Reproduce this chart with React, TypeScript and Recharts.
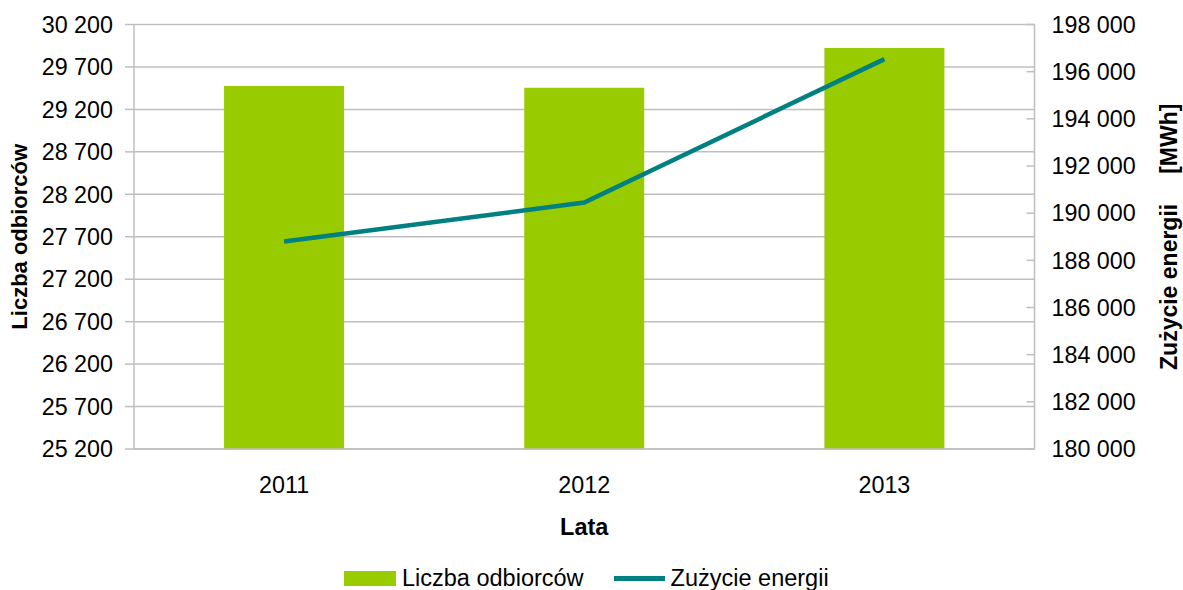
import React from 'react';
import {
  ComposedChart,
  Bar,
  Line,
  XAxis,
  YAxis,
  CartesianGrid,
  Legend,
} from 'recharts';

const years = ['2011', '2012', '2013'];
const customers = [29477, 29454, 29922];
const energy = [188795, 190450, 196533];

const leftTicks = [25200, 25700, 26200, 26700, 27200, 27700, 28200, 28700, 29200, 29700, 30200];
const rightTicks = [180000, 182000, 184000, 186000, 188000, 190000, 192000, 194000, 196000, 198000];

const seriesNames = { bars: 'Liczba odbiorców', line: 'Zużycie energii' };
const axisTitles = { x: 'Lata', left: 'Liczba odbiorców', right: 'Zużycie energii', rightUnit: '[MWh]' };

const data = years.map((y, i) => ({ year: y, customers: customers[i], energy: energy[i] }));

const BAR_COLOR = '#99CC00';
const LINE_COLOR = '#008080';
const GRID = '#BFBFBF';
const FONT = '"Liberation Sans", Arial, sans-serif';
const FS = 23.3;

const fmt = (v: number) => String(v).replace(/\B(?=(\d{3})+(?!\d))/g, ' ');

const RightTick = (props: any) => {
  const { x, y, payload } = props;
  return (
    <g>
      <line x1={x - 25} x2={x - 17} y1={y} y2={y} stroke={GRID} strokeWidth={1.5} />
      <text x={x} y={y} dy="0.355em" textAnchor="start" fontSize={FS} fill="#000">
        {fmt(payload.value)}
      </text>
    </g>
  );
};

const LegendContent = () => (
  <div
    style={{
      display: 'flex',
      alignItems: 'center',
      height: 24,
      paddingLeft: 344,
      fontSize: 23.5,
      color: '#000',
      fontFamily: FONT,
      whiteSpace: 'nowrap',
    }}
  >
    <span style={{ display: 'inline-block', width: 52, height: 15, background: BAR_COLOR }} />
    <span style={{ marginLeft: 6 }}>{seriesNames.bars}</span>
    <span style={{ display: 'inline-block', width: 51, height: 5, background: LINE_COLOR, marginLeft: 30 }} />
    <span style={{ marginLeft: 6 }}>{seriesNames.line}</span>
  </div>
);

export default function App() {
  return (
    <div style={{ position: 'absolute', left: 0, top: 0, fontFamily: FONT, background: '#fff' }}>
      <ComposedChart
        width={1183}
        height={590}
        data={data}
        margin={{ top: 24.5, right: 0, left: 0, bottom: 0 }}
        barCategoryGap="30%"
      >
        <CartesianGrid yAxisId="left" vertical={false} stroke={GRID} strokeWidth={1.5} />
        <XAxis
          dataKey="year"
          height={117}
          tickLine={false}
          tickSize={0}
          tickMargin={27.5}
          axisLine={{ stroke: GRID, strokeWidth: 1.5 }}
          tick={{ fill: '#000', fontSize: FS }}
          label={(p: any) => {
            const vb = p.viewBox;
            return (
              <text
                x={vb.x + vb.width / 2}
                y={vb.y + 86}
                textAnchor="middle"
                fontSize={23.5}
                fontWeight="bold"
                fill="#000"
              >
                {axisTitles.x}
              </text>
            );
          }}
        />
        <YAxis
          yAxisId="left"
          orientation="left"
          width={134}
          domain={[25200, 30200]}
          ticks={leftTicks}
          interval={0}
          allowDataOverflow
          tickSize={9}
          tickMargin={12}
          tickFormatter={fmt}
          tick={{ fill: '#000', fontSize: FS }}
          tickLine={{ stroke: GRID, strokeWidth: 1.5 }}
          axisLine={{ stroke: GRID, strokeWidth: 1.5 }}
          label={(p: any) => {
            const vb = p.viewBox;
            const cx = vb.x + 19;
            const cy = vb.y + vb.height / 2;
            return (
              <text
                x={cx}
                y={cy}
                transform={`rotate(-90, ${cx}, ${cy})`}
                textAnchor="middle"
                dominantBaseline="central"
                fontSize={22}
                fontWeight="bold"
                fill="#000"
              >
                {axisTitles.left}
              </text>
            );
          }}
        />
        <YAxis
          yAxisId="right"
          orientation="right"
          width={148.5}
          domain={[180000, 198000]}
          ticks={rightTicks}
          interval={0}
          allowDataOverflow
          tickSize={8}
          tickMargin={9}
          tickLine={false}
          tick={<RightTick />}
          axisLine={{ stroke: GRID, strokeWidth: 1.5 }}
          label={(p: any) => {
            const vb = p.viewBox;
            const cx = vb.x + 134.5;
            const cy = vb.y + vb.height / 2;
            return (
              <text
                x={cx}
                y={cy}
                transform={`rotate(-90, ${cx}, ${cy})`}
                textAnchor="middle"
                dominantBaseline="central"
                fontSize={23}
                fontWeight="bold"
                fill="#000"
              >
                {axisTitles.right}
                <tspan dx={30}>{axisTitles.rightUnit}</tspan>
              </text>
            );
          }}
        />
        <Legend verticalAlign="bottom" height={24} wrapperStyle={{ left: 0, bottom: 0, width: 1183 }} content={<LegendContent />} />
        <Bar yAxisId="left" dataKey="customers" name={seriesNames.bars} fill={BAR_COLOR} isAnimationActive={false} />
        <Line
          yAxisId="right"
          type="linear"
          dataKey="energy"
          name={seriesNames.line}
          stroke={LINE_COLOR}
          strokeWidth={4.5}
          dot={false}
          activeDot={false}
          isAnimationActive={false}
        />
      </ComposedChart>
    </div>
  );
}
